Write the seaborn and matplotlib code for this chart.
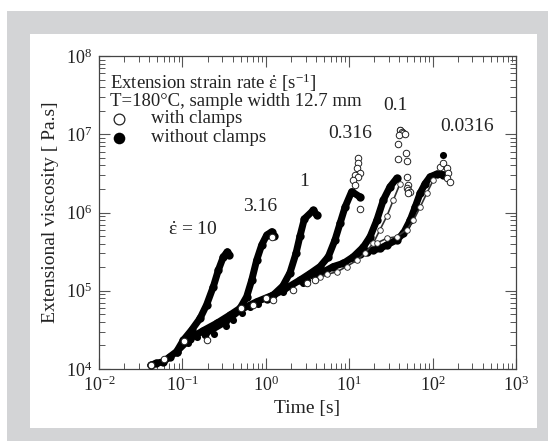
import numpy as np
import pandas as pd
import matplotlib
matplotlib.use("Agg")
import matplotlib.pyplot as plt
import matplotlib.patches as patches
import seaborn as sns

# ---- data (time [s], extensional viscosity [Pa.s]) ----
# dense curves, without clamps
t_10 = [0.0417, 0.0482, 0.059, 0.071, 0.0853, 0.103, 0.129, 0.163, 0.195, 0.235, 0.27, 0.31, 0.346, 0.362]
eta_10 = [1.12e4, 1.18e4, 1.24e4, 1.44e4, 1.67e4, 2.35e4, 3.15e4, 4.45e4, 6.6e4, 1.13e5, 1.84e5, 2.72e5, 3.15e5, 2.9e5]

t_316 = [0.0853, 0.123, 0.178, 0.258, 0.372, 0.491, 0.59, 0.678, 0.778, 0.893, 1.026, 1.178, 1.253]
eta_316 = [1.67e4, 2.45e4, 3.1e4, 3.84e4, 4.9e4, 5.97e4, 8.4e4, 1.37e5, 2.47e5, 3.85e5, 5.15e5, 5.69e5, 5.0e5]

t_1 = [0.185, 0.324, 0.491, 0.776, 1.23, 1.6, 1.95, 2.3, 2.57, 2.9, 3.72, 4.07]
eta_1 = [2.82e4, 3.98e4, 5.68e4, 7.24e4, 8.83e4, 1.15e5, 1.7e5, 3.0e5, 5.0e5, 8.3e5, 1.07e6, 9.3e5]

t_0316 = [1.02, 1.62, 2.57, 3.39, 4.47, 5.62, 6.76, 7.76, 8.91, 10.7, 13.5]
eta_0316 = [7.94e4, 1.02e5, 1.37e5, 1.66e5, 2.04e5, 2.72e5, 4.47e5, 7.24e5, 1.17e6, 1.85e6, 1.58e6]

t_01 = [3.72, 4.9, 6.46, 8.51, 11.2, 14.8, 17.8, 21.4, 25.7, 30.9, 37.2]
eta_01 = [1.58e5, 1.74e5, 2.04e5, 2.24e5, 2.72e5, 3.63e5, 4.9e5, 7.94e5, 1.45e6, 2.14e6, 2.74e6]

t_00316 = [11.2, 13.5, 16.2, 19.5, 23.4, 28.2, 37.2, 44.7, 53.7, 61.7, 70.8, 81.3, 93.3, 112, 135]
eta_00316 = [2.63e5, 2.95e5, 3.16e5, 3.31e5, 3.47e5, 3.85e5, 4.47e5, 5.42e5, 7.94e5, 1.17e6, 1.76e6, 2.34e6, 2.86e6, 3.1e6, 3.05e6]

# sparse points, without clamps
t_fill_pts = [0.118, 0.148, 0.187, 0.241, 0.33, 0.407, 0.514, 0.647, 0.813, 1.02, 1.62, 2.82, 3.09,
              40.7, 42.7, 135]
eta_fill_pts = [2.13e4, 2.54e4, 2.72e4, 2.8e4, 3.57e4, 4.23e4, 5.15e4, 6.14e4, 6.76e4, 7.94e4, 9.77e4, 1.24e5, 1.37e5,
                1.13e7, 1.08e7, 5.4e6]

# with clamps: curves that separate from the ones above
t_01_cl = [4.47, 5.37, 7.08, 9.33, 12.3, 15.5, 19.5, 23.4, 28.2, 33.9, 40.7]
eta_01_cl = [1.51e5, 1.62e5, 1.74e5, 2.04e5, 2.45e5, 3.02e5, 4.07e5, 6.03e5, 8.91e5, 1.45e6, 2.34e6]

t_00316_cl = [21.4, 28.2, 37.2, 49, 58.9, 70.8, 85.1, 102]
eta_00316_cl = [4.07e5, 4.68e5, 4.9e5, 6.03e5, 7.94e5, 1.17e6, 1.76e6, 2.6e6]

# with clamps: scattered points
t_open_pts = [0.0417, 0.06, 0.105, 0.199, 0.5, 0.7, 1.0, 1.23, 2.14, 3.09, 3.89, 1.2,
              12.9, 12.9, 12.3, 13.5, 11.7, 12.9, 11.2, 11.7, 13.5,
              40.7, 42.7, 44.7, 39.8, 46.8, 38.9, 38.9, 47.9, 49, 49, 51.3, 49, 51.3, 53.7, 51.3,
              123, 135, 148, 155, 148, 162]
eta_open_pts = [1.12e4, 1.35e4, 2.25e4, 2.35e4, 6.0e4, 6.5e4, 8.0e4, 7.59e4, 1.02e5, 1.24e5, 1.37e5, 4.8e5,
                4.9e6, 4.27e6, 3.67e6, 3.16e6, 3.02e6, 2.86e6, 2.6e6, 2.24e6, 1.12e6,
                1.13e7, 1.08e7, 1.05e7, 9.77e6, 1.01e7, 7.59e6, 4.79e6, 5.71e6, 4.57e6, 2.82e6, 2.24e6, 2.04e6, 1.95e6, 1.85e6, 1.76e6,
                3.85e6, 4.27e6, 3.67e6, 3.16e6, 2.74e6, 2.45e6]

rate_labels = [r"$\dot{\mathrm{ε}}$ = 10", "3.16", "1", "0.316", "0.1", "0.0316"]
label_t = [0.135, 0.85, 2.87, 10.2, 35.4, 256]
label_eta = [5.97e5, 1.19e6, 2.48e6, 1.01e7, 2.3e7, 1.25e7]

# ---- style ----
sns.set_theme(style="ticks")
plt.rcParams["font.family"] = ["Liberation Serif", "DejaVu Serif"]
plt.rcParams["mathtext.fontset"] = "custom"
plt.rcParams["mathtext.rm"] = "Liberation Serif"
plt.rcParams["mathtext.it"] = "Liberation Serif:italic"
plt.rcParams["mathtext.bf"] = "Liberation Serif:bold"
plt.rcParams["axes.linewidth"] = 0.9

fig = plt.figure(figsize=(5.48, 4.41), dpi=100)
fig.patch.set_facecolor("white")

# grey frame with white panel behind the plot
bg = fig.add_axes([0, 0, 1, 1], zorder=-10)
bg.set_xlim(0, 548)
bg.set_ylim(441, 0)
bg.axis("off")
bg.add_patch(patches.Rectangle((7, 11), 541, 430, facecolor="#d3d4d6", edgecolor="none"))
bg.add_patch(patches.Rectangle((30, 34), 507, 394, facecolor="white", edgecolor="none"))

ax = fig.add_axes([99 / 548, 72 / 441, 417 / 548, 313 / 441])
ax.set_facecolor("white")

dense = [(t_10, eta_10), (t_316, eta_316), (t_1, eta_1), (t_0316, eta_0316), (t_01, eta_01), (t_00316, eta_00316)]
for tt, ee in dense:
    sns.lineplot(x=tt, y=ee, sort=False, ax=ax, color="black", lw=5.0, solid_capstyle="round",
                 marker="o", markersize=6, markeredgewidth=0, zorder=3)

for tt, ee in [(t_01_cl, eta_01_cl), (t_00316_cl, eta_00316_cl)]:
    sns.lineplot(x=tt, y=ee, sort=False, ax=ax, color="#333333", lw=1.2, marker="o", markersize=4,
                 markerfacecolor="white", markeredgecolor="#222222", markeredgewidth=0.6, zorder=4)

sns.scatterplot(x=t_fill_pts, y=eta_fill_pts, ax=ax, color="black", s=26, linewidth=0, zorder=3)
sns.scatterplot(x=t_open_pts, y=eta_open_pts, ax=ax, facecolor="white", edgecolor="#222222",
                s=22, linewidth=0.7, zorder=4)

ax.set_xscale("log")
ax.set_yscale("log")
ax.set_xlim(1e-2, 1e3)
ax.set_ylim(1e4, 1e8)

ax.tick_params(which="both", direction="in", top=True, right=True, colors="#555555",
               labelcolor="#222222", labelsize=13, pad=5)
ax.tick_params(which="major", length=8, width=0.8)
ax.tick_params(which="minor", length=4, width=0.7)
ax.xaxis.set_minor_locator(matplotlib.ticker.LogLocator(base=10, subs=np.arange(2, 10)))
ax.yaxis.set_minor_locator(matplotlib.ticker.LogLocator(base=10, subs=np.arange(2, 10)))
for sp in ax.spines.values():
    sp.set_color("#444444")

ax.set_xlabel("Time [s]", fontsize=14, color="#222222", labelpad=3)
ax.set_ylabel("Extensional viscosity [ Pa.s]", fontsize=14, color="#222222", labelpad=5)

for lab, x, y in zip(rate_labels, label_t, label_eta):
    ax.text(x, y, lab, fontsize=14, ha="center", va="center", color="#222222")

# legend-style text block
ax.text(0.026, 0.915, r"Extension strain rate $\dot{\mathrm{ε}}$ [s$^{\mathrm{-1}}$]",
        transform=ax.transAxes, fontsize=13.5, va="center", color="#222222")
ax.text(0.026, 0.856, "T=180°C, sample width 12.7 mm", transform=ax.transAxes,
        fontsize=13.5, va="center", color="#222222")
ax.scatter([0.048], [0.799], transform=ax.transAxes, s=60, facecolor="white", edgecolor="#222222", linewidth=0.9)
ax.scatter([0.048], [0.739], transform=ax.transAxes, s=70, color="black", linewidth=0)
ax.text(0.125, 0.799, "with clamps", transform=ax.transAxes, fontsize=13.5, va="center", color="#222222")
ax.text(0.125, 0.739, "without clamps", transform=ax.transAxes, fontsize=13.5, va="center", color="#222222")

fig.savefig("out.png", dpi=100)
